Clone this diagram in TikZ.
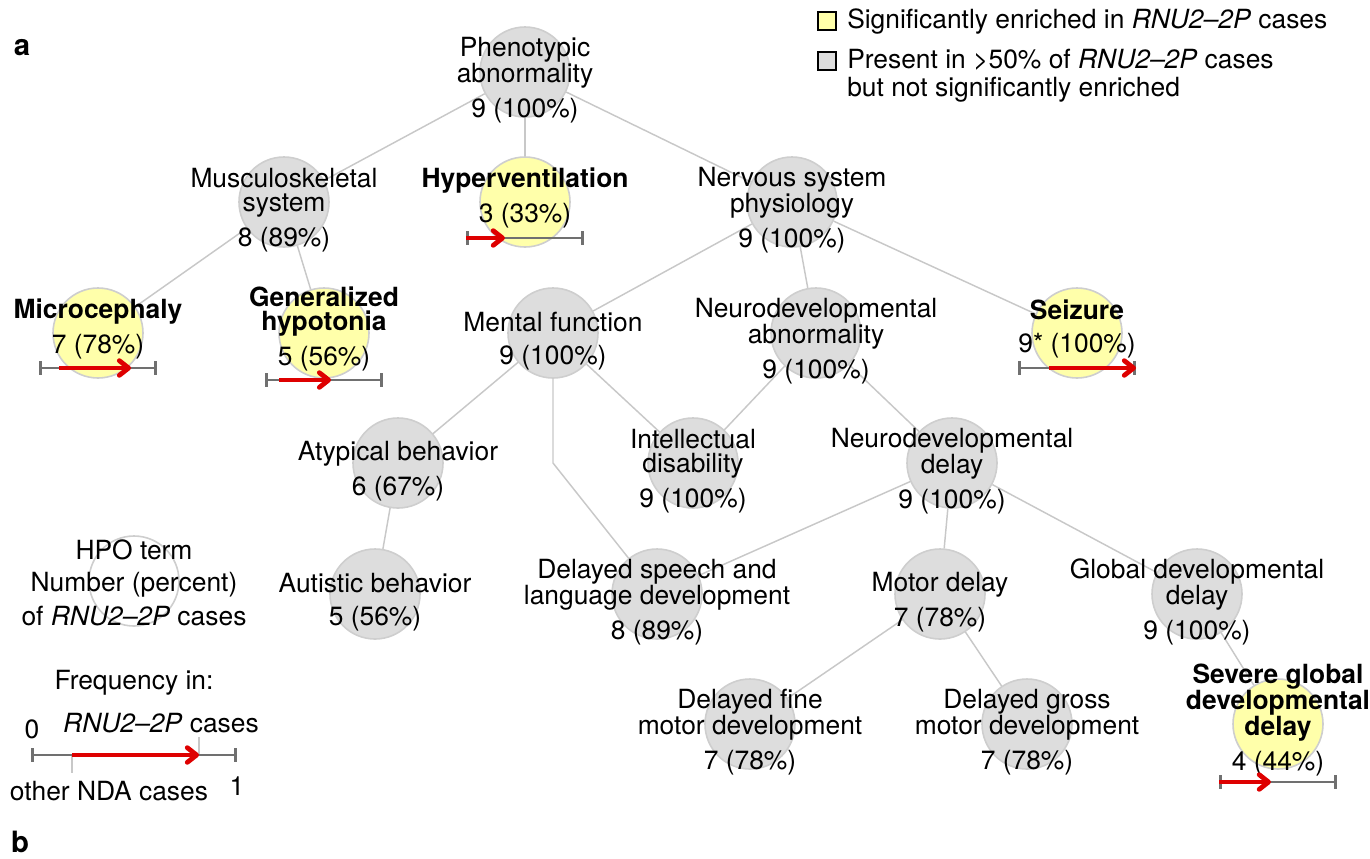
\documentclass[tikz,border=0pt]{standalone}
\usepackage{fontspec}
\setmainfont{TeX Gyre Heros}
\usetikzlibrary{arrows.meta,calc}

\definecolor{termgray}{RGB}{221,221,221}
\definecolor{termyellow}{RGB}{255,255,170}
\definecolor{rimgray}{RGB}{206,206,206}
\definecolor{edgegray}{RGB}{200,200,200}
\definecolor{bargray}{RGB}{112,112,112}
\definecolor{freqred}{RGB}{222,0,0}

\tikzset{
  term/.style={circle, draw=rimgray, line width=1.2pt, minimum size=67.5pt, inner sep=0pt},
  lbl/.style={align=center, inner sep=0pt},
  edge/.style={draw=edgegray, line width=1.1pt},
  bar/.style={draw=bargray, line width=2.2pt, {Bar[width=10pt]}-{Bar[width=10pt]}},
  freq/.style={draw=freqred, line width=3.6pt, -{Straight Barb[length=7pt, width=11pt, round]}},
  marker/.style={draw=edgegray, line width=1.5pt},
  keybox/.style={draw=black, line width=0.8pt, minimum size=13.5pt, inner sep=0pt},
}

% frequency bar under an enriched term:
% #1 name, #2 centre x, #3 y, #4 other NDA cases, #5 RNU2-2P cases
\newcommand{\freqbar}[5]{%
  \coordinate (#1-lo) at ({#2-59},#3);
  \coordinate (#1-hi) at ({#2+59},#3);
  \coordinate (#1-nda) at ({#2-59+118*#4},#3);
  \coordinate (#1-rnu) at ({#2-59+118*#5},#3);
  \draw[bar] (#1-lo) -- (#1-hi);
  \draw[freq] (#1-nda) -- (#1-rnu);
}

\begin{document}
\begin{tikzpicture}[x=0.75pt,y=0.75pt,yscale=-1,xscale=1,font=\fontsize{19.8}{18.5}\selectfont]
    \useasboundingbox (0,0) rectangle (1370,858);

    %Shape: Circle (terms)
    \node[term, fill=termgray]   (pheno)   at (525,72) {};
    \node[term, fill=termgray]   (musc)    at (284,202) {};
    \node[term, fill=termyellow] (hyper)   at (525,202) {};
    \node[term, fill=termgray]   (nerv)    at (792,202) {};
    \node[term, fill=termyellow] (micro)   at (98,333) {};
    \node[term, fill=termyellow] (hypo)    at (324,333) {};
    \node[term, fill=termgray]   (mental)  at (553,333) {};
    \node[term, fill=termgray]   (neuroab) at (816,333) {};
    \node[term, fill=termyellow] (seizure) at (1077,333) {};
    \node[term, fill=termgray]   (atyp)    at (398,463) {};
    \node[term, fill=termgray]   (intel)   at (693,463) {};
    \node[term, fill=termgray]   (ndd)     at (952,463) {};
    \node[term, fill=termgray]   (autis)   at (375,594) {};
    \node[term, fill=termgray]   (speech)  at (657,594) {};
    \node[term, fill=termgray]   (motor)   at (940,594) {};
    \node[term, fill=termgray]   (glob)    at (1197,594) {};
    \node[term, fill=termgray]   (fine)    at (750,724) {};
    \node[term, fill=termgray]   (gross)   at (1027,724) {};
    \node[term, fill=termyellow] (severe)  at (1278,724) {};
    \node[term, fill=white]      (key)     at (134,581) {};

    %Straight Lines (ontology edges)
    \draw[edge] (pheno) -- (musc);
    \draw[edge] (pheno) -- (hyper);
    \draw[edge] (pheno) -- (nerv);
    \draw[edge] (musc) -- (micro);
    \draw[edge] (musc) -- (hypo);
    \draw[edge] (nerv) -- (mental);
    \draw[edge] (nerv) -- (neuroab);
    \draw[edge] (nerv) -- (seizure);
    \draw[edge] (mental) -- (atyp);
    \draw[edge] (mental) -- (intel);
    \coordinate (bend) at (553,463);
    \draw[edge] (mental) -- (bend) -- (speech);
    \draw[edge] (neuroab) -- (intel);
    \draw[edge] (neuroab) -- (ndd);
    \draw[edge] (atyp) -- (autis);
    \draw[edge] (ndd) -- (speech);
    \draw[edge] (ndd) -- (motor);
    \draw[edge] (ndd) -- (glob);
    \draw[edge] (motor) -- (fine);
    \draw[edge] (motor) -- (gross);
    \draw[edge] (glob) -- (severe);

    % Text Node
    \node[lbl] (pheno-t)   at ($(pheno)+(0,8)$)   {Phenotypic\\abnormality\\[6.5pt]9 (100\%)};
    \node[lbl] (musc-t)    at ($(musc)+(0,8)$)    {Musculoskeletal\\system\\[6.5pt]8 (89\%)};
    \node[lbl] (hyper-t)   at ($(hyper)+(0,-4)$)  {\textbf{Hyperventilation}\\[6.5pt]3 (33\%)};
    \node[lbl] (nerv-t)    at ($(nerv)+(0,8)$)    {Nervous system\\physiology\\[6.5pt]9 (100\%)};
    \node[lbl] (micro-t)   at ($(micro)+(0,-4)$)  {\textbf{Microcephaly}\\[6.5pt]7 (78\%)};
    \node[lbl] (hypo-t)    at ($(hypo)+(0,-4)$)   {\textbf{Generalized}\\\textbf{hypotonia}\\[6.5pt]5 (56\%)};
    \node[lbl] (mental-t)  at ($(mental)+(0,8)$)  {Mental function\\[6.5pt]9 (100\%)};
    \node[lbl] (neuroab-t) at ($(neuroab)+(0,8)$) {Neurodevelopmental\\abnormality\\[6.5pt]9 (100\%)};
    \node[lbl] (seizure-t) at ($(seizure)+(0,-4)$) {\textbf{Seizure}\\[6.5pt]9* (100\%)};
    \node[lbl] (atyp-t)    at ($(atyp)+(0,8)$)    {Atypical behavior\\[6.5pt]6 (67\%)};
    \node[lbl] (intel-t)   at ($(intel)+(0,8)$)   {Intellectual\\disability\\[6.5pt]9 (100\%)};
    \node[lbl] (ndd-t)     at ($(ndd)+(0,8)$)     {Neurodevelopmental\\delay\\[6.5pt]9 (100\%)};
    \node[lbl] (autis-t)   at ($(autis)+(0,8)$)   {Autistic behavior\\[6.5pt]5 (56\%)};
    \node[lbl] (speech-t)  at ($(speech)+(0,8)$)  {Delayed speech and\\language development\\[6.5pt]8 (89\%)};
    \node[lbl] (motor-t)   at ($(motor)+(0,8)$)   {Motor delay\\[6.5pt]7 (78\%)};
    \node[lbl] (glob-t)    at ($(glob)+(0,8)$)    {Global developmental\\delay\\[6.5pt]9 (100\%)};
    \node[lbl] (fine-t)    at ($(fine)+(0,8)$)    {Delayed fine\\motor development\\[6.5pt]7 (78\%)};
    \node[lbl] (gross-t)   at ($(gross)+(0,8)$)   {Delayed gross\\motor development\\[6.5pt]7 (78\%)};
    \node[lbl] (severe-t)  at ($(severe)+(0,-4)$) {\textbf{Severe global}\\\textbf{developmental}\\\textbf{delay}\\[6.5pt]4 (44\%)};

    %Frequency bars
    \freqbar{hyper}{525}{238}{0}{0.33}
    \freqbar{micro}{98}{368}{0.17}{0.78}
    \freqbar{hypo}{324}{380}{0.12}{0.56}
    \freqbar{seizure}{1077}{368}{0.26}{1}
    \freqbar{severe}{1278}{782}{0}{0.44}

    % Legend: term key
    \node[lbl] (key-t) at ($(key)+(0,2)$) {HPO term\\[5.5pt]Number (percent)\\[5.5pt]of \textit{RNU2--2P} cases};

    % Legend: frequency key
    \node[lbl] (freq-t) at (134,683) {Frequency in:};
    \coordinate (k-lo) at (31,755);
    \coordinate (k-hi) at (237,755);
    \coordinate (k-nda) at (72,755);
    \coordinate (k-rnu) at (199,755);
    \draw[marker] (k-nda) -- ++(0,18);
    \draw[marker] (k-rnu) -- ++(0,-18);
    \draw[bar] (k-lo) -- (k-hi);
    \draw[freq] (k-nda) -- (k-rnu);
    \node[lbl] (k-zero) at (32,729) {0};
    \node[lbl] (k-one) at (237,786) {1};
    \node[lbl] (k-rnu-t) at (161,723) {\textit{RNU2--2P} cases};
    \node[lbl] (k-nda-t) at (109,791) {other NDA cases};

    % Legend: colours
    \node[keybox, fill=termyellow] (sig-box) at (827,21) {};
    \node[anchor=base west, inner sep=0pt] (sig-t) at (847,28) {Significantly enriched in \textit{RNU2--2P} cases};
    \node[keybox, fill=termgray] (pres-box) at (827,61) {};
    \node[anchor=base west, inner sep=0pt] (pres-t) at (847,68) {Present in >50\% of \textit{RNU2--2P} cases};
    \node[anchor=base west, inner sep=0pt] (pres-t2) at (847,96) {but not significantly enriched};

    % Panel labels
    \node[font=\fontsize{22}{22}\selectfont\bfseries] (panel-a) at (22,48) {a};
    \node[font=\fontsize{22}{22}\selectfont\bfseries] (panel-b) at (20,842) {b};
\end{tikzpicture}
\end{document}
